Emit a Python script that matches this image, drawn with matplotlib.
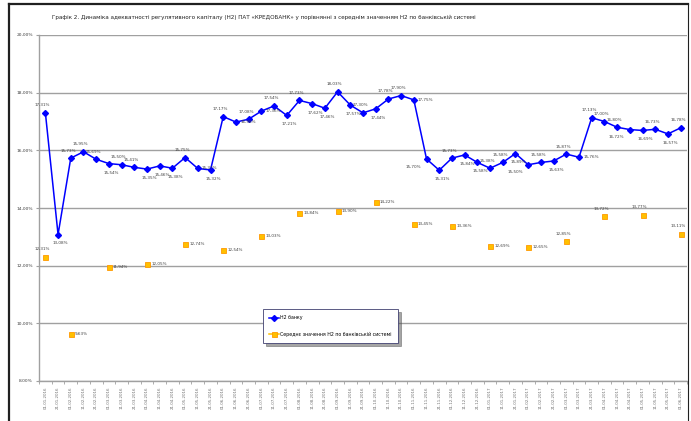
import numpy as np
import matplotlib.pyplot as plt
from matplotlib.lines import Line2D

plt.rcParams['font.family'] = ['Liberation Sans Narrow', 'DejaVu Sans']

dates = [
    '01.01.2016', '21.01.2016',
    '01.02.2016', '11.02.2016', '21.02.2016',
    '01.03.2016', '11.03.2016', '21.03.2016',
    '01.04.2016', '11.04.2016', '21.04.2016',
    '01.05.2016', '11.05.2016', '21.05.2016',
    '01.06.2016', '11.06.2016', '21.06.2016',
    '01.07.2016', '11.07.2016', '21.07.2016',
    '01.08.2016', '11.08.2016', '21.08.2016',
    '01.09.2016', '11.09.2016', '21.09.2016',
    '01.10.2016', '11.10.2016', '21.10.2016',
    '01.11.2016', '11.11.2016', '21.11.2016',
    '01.12.2016', '11.12.2016', '21.12.2016',
    '01.01.2017', '11.01.2017', '21.01.2017',
    '01.02.2017', '11.02.2017', '21.02.2017',
    '01.03.2017', '11.03.2017', '21.03.2017',
    '01.04.2017', '11.04.2017', '21.04.2017',
    '01.05.2017', '11.05.2017', '21.05.2017',
    '01.06.2017',
]

# Н2 банку, %
bank_n2 = [17.31, 13.08, 15.73, 15.95, 15.69, 15.54, 15.50, 15.41, 15.35, 15.46,
           15.38, 15.75, 15.37, 15.32, 17.17, 16.98, 17.08, 17.36, 17.54, 17.21,
           17.73, 17.62, 17.46, 18.03, 17.57, 17.30, 17.44, 17.78, 17.90, 17.75,
           15.70, 15.31, 15.73, 15.84, 15.58, 15.38, 15.58, 15.89, 15.50, 15.58,
           15.63, 15.87, 15.76, 17.13, 17.00, 16.80, 16.72, 16.69, 16.73, 16.57,
           16.78]

# середнє по системі, на 1-е число місяця, %
system_n2 = [12.31, 9.63, 11.94, 12.05, 12.74, 12.54, 13.03, 13.84, 13.90,
             14.22, 13.45, 13.36, 12.69, 12.65, 12.85, 13.72, 13.77, 13.11]

title = ('Графік 2. Динаміка адекватності регулятивного капіталу (Н2) ПАТ «КРЕДОБАНК» '
         'у порівнянні з середнім значенням Н2 по банківській системі')

# label placement: u - above, d - below, r - right, l - below left
bank_pos = ("uduuuduudd"
            "durdururud"
            "uddududuur"
            "ldudduudlu"
            "duruuuldudu")
system_pos = "urrrrrrrrrrrrruuuu"

x = np.arange(len(dates))
month_idx = [i for i, d in enumerate(dates) if d.startswith('01.')]

fig = plt.figure(figsize=(6.91, 4.21), dpi=100)
ax = fig.add_axes([39 / 691, 40 / 421, 648 / 691, 346 / 421])

ax.plot(x, bank_n2, color='#0000FF', lw=1.1, marker='D', ms=3.0,
        label='Н2 банку', zorder=3)

sys_full = np.full(len(dates), np.nan)
sys_full[month_idx] = system_n2
ax.plot(x, sys_full, color='#FFC000', lw=1.1, marker='s', ms=3.6,
        mfc='#FFC000', mec='#FF9900', mew=0.6,
        label='Середнє значення Н2 по банківській системі', zorder=3)


def fmt(v):
    return f'{v:.2f}%'.replace('.', ',')


def put_label(i, v, pos):
    if pos == 'u':
        off, ha, va = (-2, 4), 'center', 'bottom'
    elif pos == 'd':
        off, ha, va = (2, -5), 'center', 'top'
    elif pos == 'l':
        off, ha, va = (-4, -4), 'right', 'top'
    else:
        off, ha, va = (3, 0), 'left', 'center'
    ax.annotate(fmt(v), (i, v), xytext=off, textcoords='offset points',
                ha=ha, va=va, fontsize=3.0, color='#404040')


for i, v in enumerate(bank_n2):
    put_label(i, v, bank_pos[i])
for k, i in enumerate(month_idx):
    put_label(i, system_n2[k], system_pos[k])

ax.set_xlim(-0.5, len(dates) - 0.5)
ax.set_ylim(8, 20)
yt = np.arange(8, 20.01, 2)
ax.set_yticks(yt)
ax.set_yticklabels([fmt(v) for v in yt], fontsize=3.2, color='#404040')
ax.yaxis.grid(True, color='#A0A0A0', lw=1)
ax.set_axisbelow(True)

ax.set_xticks(x)
ax.set_xticklabels(dates, rotation=90, fontsize=2.9, color='#707070')
ax.set_xticks(np.arange(-0.5, len(dates), 1), minor=True)
ax.tick_params(axis='x', which='major', length=0, pad=4)
ax.tick_params(axis='x', which='minor', length=2.5, color='#A0A0A0')
ax.tick_params(axis='y', length=2.5, color='#A0A0A0', pad=2)

for s in ['top', 'right']:
    ax.spines[s].set_visible(False)
for s in ['left', 'bottom']:
    ax.spines[s].set_color('#A0A0A0')
    ax.spines[s].set_linewidth(1)

leg = ax.legend(loc='upper left', bbox_to_anchor=(0.3457, 0.208),
                fontsize=3.4, frameon=True, fancybox=False, shadow=True,
                handlelength=2.0, labelspacing=2.4, borderpad=1.3,
                handletextpad=0.4, borderaxespad=0)
leg.get_frame().set_edgecolor('#404070')
leg.get_frame().set_linewidth(0.6)

fig.text(52 / 691, 1 - 17 / 421, title, fontsize=4.1, ha='left', va='center',
         color='#202020')

# outer frame
fig.add_artist(Line2D([9 / 691, 9 / 691], [0, 1 - 4 / 421],
                      transform=fig.transFigure, color='#202020', lw=1.6))
fig.add_artist(Line2D([9 / 691, 688 / 691], [1 - 4 / 421, 1 - 4 / 421],
                      transform=fig.transFigure, color='#202020', lw=1.6))
fig.add_artist(Line2D([688 / 691, 688 / 691], [0, 1 - 4 / 421],
                      transform=fig.transFigure, color='#202020', lw=0.8))

fig.savefig('out.png', dpi=100)
